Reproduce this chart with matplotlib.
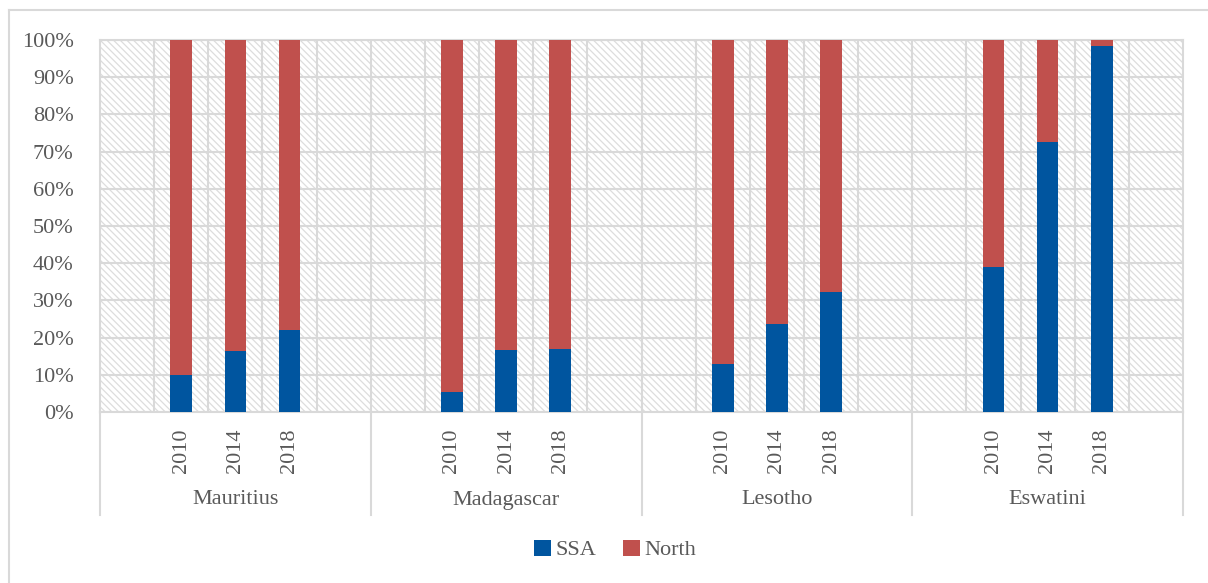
import numpy as np
import matplotlib.pyplot as plt
from matplotlib.lines import Line2D
from matplotlib.patches import Patch

# share of trade partners (%), per country and year
countries = ['Mauritius', 'Madagascar', 'Lesotho', 'Eswatini']
years = ['2010', '2014', '2018']
ssa = [[10.0, 16.5, 22.0],
       [5.3, 16.7, 17.0],
       [12.8, 23.7, 32.3],
       [39.0, 72.7, 98.3]]
north = [[90.0, 83.5, 78.0],
         [94.7, 83.3, 83.0],
         [87.2, 76.3, 67.7],
         [61.0, 27.3, 1.7]]

blue = '#00559f'
red = '#c0504d'
grey = '#d9d9d9'
text_col = '#595959'

plt.rcParams['font.family'] = ['Liberation Serif', 'DejaVu Serif']
plt.rcParams['hatch.linewidth'] = 0.9

fig = plt.figure(figsize=(12.08, 5.83), dpi=100)
ax = fig.add_axes([100 / 1208, 1 - 412 / 583, 1083 / 1208, 372 / 583])

# 5 slots per country: empty, 3 years, empty
slots = 5
xpos, s_vals, n_vals = [], [], []
for g in range(len(countries)):
    for i in range(len(years)):
        xpos.append(g * slots + 1 + i)
        s_vals.append(ssa[g][i])
        n_vals.append(north[g][i])
xpos = np.array(xpos)
s_vals = np.array(s_vals)
n_vals = np.array(n_vals)

ax.bar(xpos, s_vals, width=0.4, color=blue, zorder=3)
ax.bar(xpos, n_vals, width=0.4, bottom=s_vals, color=red, zorder=3)

ax.set_xlim(-0.5, len(countries) * slots - 0.5)
ax.set_ylim(0, 100)

# hatched background (hatch takes the patch edge colour)
ax.patch.set_facecolor('white')
ax.patch.set_edgecolor('#dddddd')
ax.patch.set_linewidth(0)
ax.patch.set_hatch('\\' * 5)

ax.set_yticks(np.arange(0, 101, 10))
ax.set_yticklabels(['%d%%' % v for v in range(0, 101, 10)])
ax.set_xticks(xpos)
ax.set_xticklabels(years * len(countries), rotation=90)
ax.set_xticks(np.arange(0.5, len(countries) * slots - 0.5, 1), minor=True)
ax.tick_params(axis='both', which='both', length=0, labelsize=16,
               labelcolor=text_col)
ax.tick_params(axis='y', pad=19)
ax.tick_params(axis='x', pad=12)

ax.set_axisbelow(True)
ax.grid(True, axis='y', which='major', color=grey, linewidth=1.5)
ax.grid(True, axis='x', which='minor', color=grey, linewidth=1.5)
for sp in ax.spines.values():
    sp.set_color(grey)
    sp.set_linewidth(1.5)

# country labels and separators below the axis
trans = ax.get_xaxis_transform()
for g, name in enumerate(countries):
    ax.text(g * slots + 2, -88 / 372, name, transform=trans, ha='center',
            va='center', fontsize=16, color=text_col)
for g in range(len(countries) + 1):
    ax.add_line(Line2D([g * slots - 0.5] * 2, [0, -103 / 372], transform=trans,
                       color=grey, linewidth=1.5, clip_on=False))

handles = [Patch(facecolor=blue, label='SSA'), Patch(facecolor=red, label='North')]
fig.legend(handles=handles, loc='center', bbox_to_anchor=(615 / 1208, 1 - 550 / 583),
           ncol=2, frameon=False, fontsize=16, handlelength=0.75, handleheight=0.75,
           handletextpad=0.2, columnspacing=1.2, labelcolor=text_col)

# outer frame
fig.add_artist(Line2D([9 / 1208, 9 / 1208], [0, 1 - 10 / 583], color=grey,
                      linewidth=1.5, transform=fig.transFigure))
fig.add_artist(Line2D([9 / 1208, 1], [1 - 10 / 583, 1 - 10 / 583], color=grey,
                      linewidth=1.5, transform=fig.transFigure))

fig.savefig('out.png', dpi=100)
